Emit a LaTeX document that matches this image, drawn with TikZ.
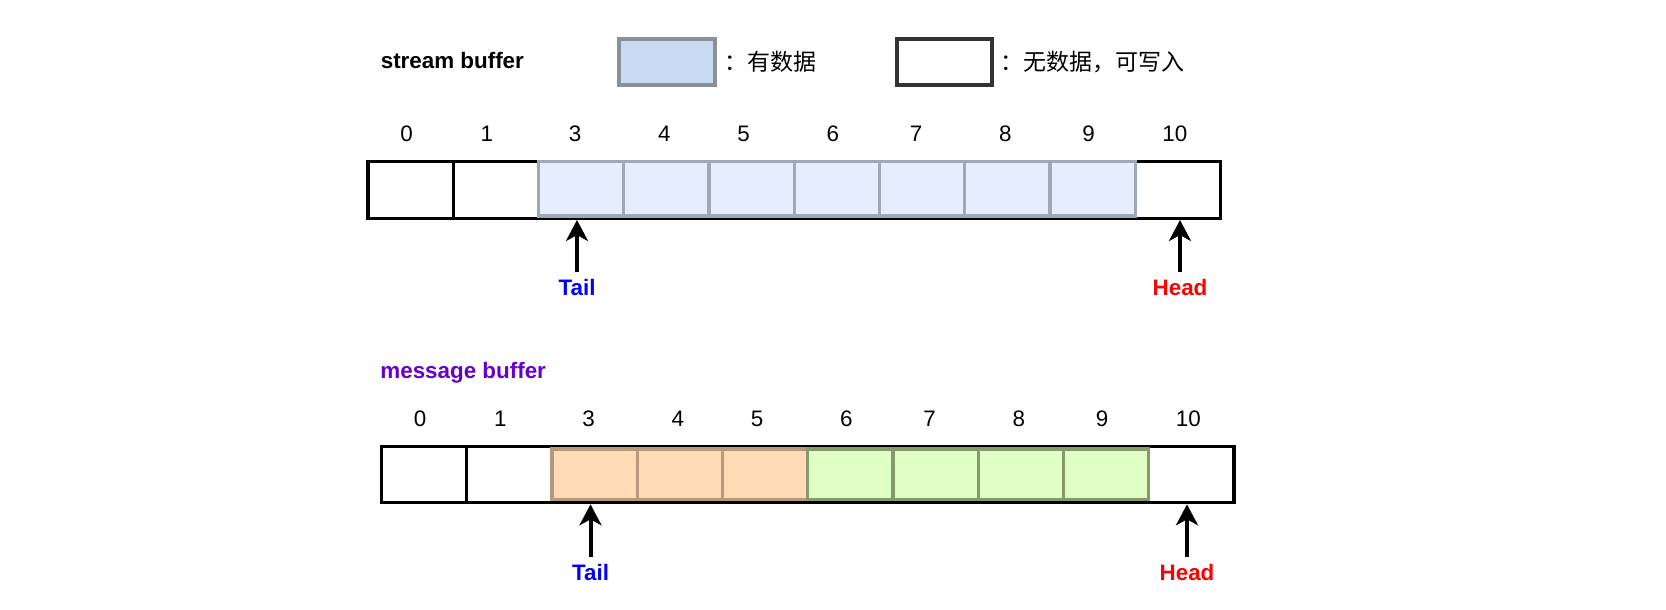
\documentclass[tikz,border=0pt]{standalone}
\usepackage{fontspec}
\setmainfont{Liberation Sans}
\setsansfont{Liberation Sans}
\newfontfamily\cjk{Noto Sans CJK SC}
\usetikzlibrary{arrows.meta, positioning}

\newcommand{\diagsize}{\fontsize{11.2}{13.4}\selectfont}

\definecolor{datablue}{HTML}{E4EEFC}
\definecolor{datablueline}{HTML}{9FA8B5}
\definecolor{keyblue}{HTML}{C9DAF3}
\definecolor{keyblueline}{HTML}{8A8F99}
\definecolor{keydark}{HTML}{333333}
\definecolor{msgorange}{HTML}{FFDAB5}
\definecolor{msgorangeline}{HTML}{B8977A}
\definecolor{msggreen}{HTML}{DFFFC4}
\definecolor{msggreenline}{HTML}{859A6B}
\definecolor{msgpurple}{HTML}{6600CC}

\tikzset{
	cell/.style={draw=black, fill=white, line width=1.65pt, minimum width=42.6pt, minimum height=28.25pt, inner sep=0pt},
	idx/.style={anchor=base, font=\diagsize},
	title/.style={anchor=base west, inner sep=0pt, font=\diagsize\bfseries},
	key/.style={line width=2pt, minimum width=47.7pt, minimum height=23pt, inner sep=0pt},
	keytext/.style={inner sep=0pt, font=\fontsize{11.5}{13.8}\selectfont\cjk},
	ptrlabel/.style={anchor=base, font=\diagsize\bfseries},
	pointer/.style={-{Stealth[length=10.5pt, width=11pt, inset=3pt]}, line width=2pt},
}

\begin{document}
\begin{tikzpicture}[x=0.5pt, y=-0.5pt, font=\diagsize]
	\def\cw{85.25}
	\def\sx{410.6}
	\def\sy{190.1}
	\def\mx{424.1}
	\def\my{474.4}
	\useasboundingbox (0,0) rectangle (1666,610);

	% legend
	\node[title]								(stitle)	at (380.4,68.3) {stream buffer};
	\node[key, draw=keyblueline, fill=keyblue]	(kfull)		at (667,61.7) {};
	\node[keytext, right=3.5pt of kfull]		(kfulltxt)	{：有数据};
	\node[key, draw=keydark, fill=white]		(kfree)		at (944.3,61.7) {};
	\node[keytext, right=3pt of kfree]			(kfreetxt)	{：无数据，可写入};

	% both buffers, cells and indices
	\foreach \i/\lab/\dx in {0/0/-4, 1/1/-9, 2/3/-6, 3/4/-2, 4/5/-8, 5/6/-4, 6/7/-6, 7/8/-2, 8/9/-4, 9/10/-3} {
		\node[cell]	(sc\i)	at (\sx+\i*\cw, \sy) {};
		\node[idx]	(sl\i)	at (\sx+\i*\cw+\dx, 141.7) {\lab};
		\node[cell]	(mc\i)	at (\mx+\i*\cw, \my) {};
		\node[idx]	(ml\i)	at (\mx+\i*\cw+\dx, 426) {\lab};
	}

	% filled cells
	\foreach \i in {2,...,8}
		\node[cell, minimum height=27.25pt, draw=datablueline, fill=datablue]	(sd\i) at ([yshift=0.68pt]sc\i) {};
	\foreach \i in {2,3,4}
		\node[cell, minimum height=25.4pt, draw=msgorangeline, fill=msgorange]	(md\i) at (mc\i) {};
	\foreach \i in {5,...,8}
		\node[cell, minimum height=25.4pt, draw=msggreenline, fill=msggreen]	(md\i) at (mc\i) {};

	% pointers
	\node[ptrlabel, text=blue]	(stail)	at (577,295.7) {Tail};
	\node[ptrlabel, text=red]	(shead)	at (1180,295.7) {Head};
	\draw[pointer]	(stail.north) -- (stail.north |- sc2.south);
	\draw[pointer]	(shead.north) -- (shead.north |- sc9.south);

	\node[title, text=msgpurple]	(mtitle)	at (380,378) {message buffer};
	\node[ptrlabel, text=blue]	(mtail)	at (590.5,580) {Tail};
	\node[ptrlabel, text=red]	(mhead)	at (1187,580) {Head};
	\draw[pointer]	(mtail.north) -- (mtail.north |- mc2.south);
	\draw[pointer]	(mhead.north) -- (mhead.north |- mc9.south);
\end{tikzpicture}
\end{document}
